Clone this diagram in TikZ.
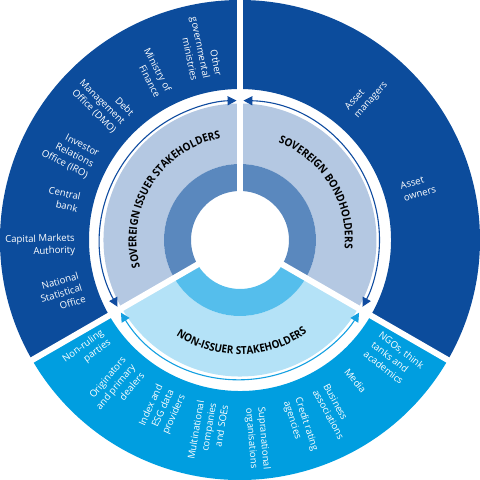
\documentclass[tikz,border=0pt]{standalone}
\usepackage{fontspec}
\setmainfont{Open Sans}
\newfontfamily\ttlfam[FakeStretch=0.9]{Open Sans}
\usetikzlibrary{decorations.text,arrows.meta}
\definecolor{dkblue}{RGB}{12,76,156}
\definecolor{ltblue}{RGB}{0,158,224}
\definecolor{midtop}{RGB}{180,200,226}
\definecolor{intop}{RGB}{90,136,190}
\definecolor{midbot}{RGB}{180,226,247}
\definecolor{inbot}{RGB}{85,190,236}
\definecolor{arrdk}{RGB}{16,76,160}
\definecolor{arrlt}{RGB}{20,160,225}
\newcommand\lblfont{\fontsize{9.6}{12.3}\selectfont}
\newcommand\ttlfont{\ttlfam\fontsize{11}{12}\selectfont\bfseries}
\newcommand\annsec[5]{\fill[#1] (#2:#4) arc[start angle=#2, end angle=#3, radius=#4] -- (#3:#5) arc[start angle=#3, end angle=#2, radius=#5] -- cycle;}
\begin{document}
\begin{tikzpicture}[x=1pt,y=1pt,
  lin/.style={text=white, font=\lblfont, align=right, anchor=east, inner sep=0pt},
  lout/.style={text=white, font=\lblfont, align=left, anchor=west, inner sep=0pt},
  gapline/.style={white, line width=6pt},
  arrowdk/.style={draw=arrdk, line width=1.1pt, {Triangle[length=9pt,width=9pt]}-{Triangle[length=9pt,width=9pt]}},
  arrowlt/.style={draw=arrlt, line width=1.1pt, {Triangle[length=9pt,width=9pt]}-{Triangle[length=9pt,width=9pt]}},
  ttl/.style={decorate, decoration={text along path, text align=center, text color=black}}]
\useasboundingbox (-240,-240) rectangle (240,240);
% outer ring
\annsec{dkblue}{90}{210}{151}{240}
\annsec{dkblue}{-30}{90}{151}{240}
\annsec{ltblue}{210}{330}{151}{240}
% middle ring
\annsec{midtop}{-30}{210}{76}{136.5}
\annsec{midbot}{210}{330}{76}{136.5}
% inner ring
\annsec{intop}{-30}{210}{49}{76}
\annsec{inbot}{210}{330}{49}{76}
% gaps
\coordinate (c) at (0,0);
\coordinate (g1) at (90:246);
\coordinate (g2) at (210:246);
\coordinate (g3) at (330:246);
\draw[gapline] (c) -- (g1);
\draw[gapline] (c) -- (g2);
\draw[gapline] (c) -- (g3);
% arrows
\coordinate (aL) at (208.6:139.5);
\coordinate (aR) at (88.6:139.5);
\coordinate (aB) at (211.4:139.5);
\draw[arrowdk] (aL) arc[start angle=208.6, end angle=91.4, radius=139.5];
\draw[arrowdk] (aR) arc[start angle=88.6, end angle=-28.6, radius=139.5];
\draw[arrowlt] (aB) arc[start angle=211.4, end angle=328.6, radius=139.5];
% titles
\path[ttl, decoration={text={|\ttlfont|SOVEREIGN ISSUER STAKEHOLDERS}}] (212:103.5) arc[start angle=212, end angle=84, radius=103.5];
\path[ttl, decoration={text={|\ttlfont|SOVEREIGN BONDHOLDERS}}] (94:105) arc[start angle=94, end angle=-30, radius=105];
\path[ttl, decoration={text={|\ttlfont|NON-ISSUER STAKEHOLDERS}}] (210:114.5) arc[start angle=210, end angle=332, radius=114.5];
% left labels
\node[lin, rotate=-78.4] (o1) at (101.6:165) {Other\\governmental\\ministries};
\node[lin, rotate=-62.4] (o2) at (117.6:165) {Ministry of\\Finance};
\node[lin, rotate=-45] (o3) at (135:165) {Debt\\Management\\Office (DMO)};
\node[lin, rotate=-27] (o4) at (153:165) {Investor\\Relations\\Office (IRO)};
\node[lin, rotate=-13] (o5) at (167:165) {Central\\bank};
\node[lin, rotate=1.6] (o6) at (181.6:165) {Capital Markets\\Authority};
\node[lin, rotate=16.6] (o7) at (196.6:165) {National\\Statistical\\Office};
% bottom-left labels
\node[lin, rotate=36] (b1) at (216:165) {Non-ruling\\parties};
\node[lin, rotate=49.7] (b2) at (229.7:165) {Originators\\and primary\\dealers};
\node[lin, rotate=65.6] (b3) at (245.6:165) {Index and\\ESG data\\providers};
\node[lin, rotate=80.5] (b4) at (260.5:165) {Multinational\\companies\\and SOEs};
% right labels
\node[lout, rotate=48.6] (r1) at (48.6:169) {Asset\\managers};
\node[lout, rotate=15.5] (r2) at (16.5:169) {Asset\\owners};
% bottom-right labels
\node[lout, rotate=-37.9] (b5) at (-37.9:168) {NGOs, think\\tanks and\\academics};
\node[lout, rotate=-50.6] (b6) at (-50.6:168) {Media};
\node[lout, rotate=-61.3] (b7) at (-61.3:168) {Business\\associations};
\node[lout, rotate=-72] (b8) at (-72:168) {Credit rating\\agencies};
\node[lout, rotate=-85] (b9) at (-85:168) {Supranational\\organisations};
\end{tikzpicture}
\end{document}
